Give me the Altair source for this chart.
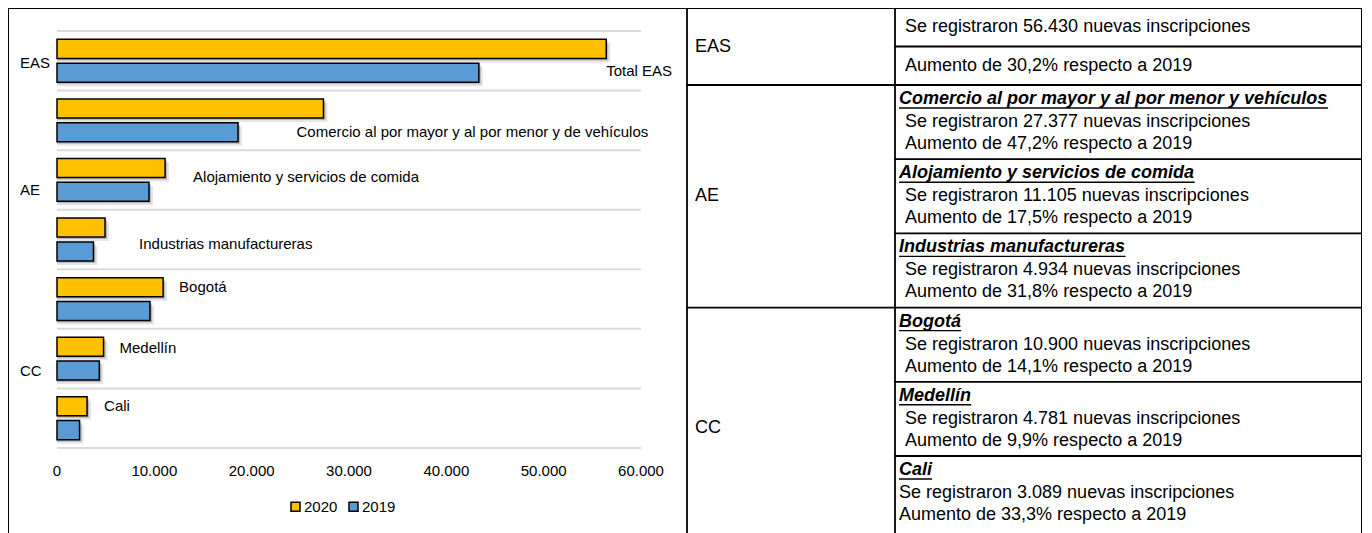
import altair as alt
import pandas as pd

# ---------------- data ----------------
CATEGORIES = [
    "Total EAS",
    "Comercio al por mayor y al por menor y de vehículos",
    "Alojamiento y servicios de comida",
    "Industrias manufactureras",
    "Bogotá",
    "Medellín",
    "Cali",
]
V2020 = [56430, 27377, 11105, 4934, 10900, 4781, 3089]
V2019 = [43341, 18598, 9451, 3744, 9553, 4350, 2317]
YEARS = ["2020", "2019"]
X_TICKS = [0, 10000, 20000, 30000, 40000, 50000, 60000]
GROUP_LABELS = ["EAS", "AE", "CC"]
TABLE_HEADERS = [
    "Comercio al por mayor y al por menor y vehículos",
    "Alojamiento y servicios de comida",
    "Industrias manufactureras",
    "Bogotá",
    "Medellín",
    "Cali",
]
INCREASES = ["30,2%", "47,2%", "17,5%", "31,8%", "14,1%", "9,9%", "33,3%"]

# ---------------- styles / layout ----------------
FONT = "Liberation Sans"
COLORS = ["#FFC000", "#5B9BD5"]
W, H = 1354, 526
X_RANGE = [49, 633]
Y_RANGE = [23, 440]
STEP = (Y_RANGE[1] - Y_RANGE[0]) / len(CATEGORIES)
CHART_FS = 15
TABLE_FS = 18

# label nudges (px) relative to the end of the 2020 bar / band centre
LABEL_NUDGE = {
    "Total EAS": (0, 10),
    "Comercio al por mayor y al por menor y de vehículos": (-27, 12),
    "Alojamiento y servicios de comida": (28, -3),
    "Industrias manufactureras": (34, 4),
    "Bogotá": (16, -12),
    "Medellín": (16, -11),
    "Cali": (17, -12),
}
GROUP_ANCHOR = {"EAS": ("Total EAS", 2), "AE": ("Alojamiento y servicios de comida", 10), "CC": ("Medellín", 12)}

df_bars = pd.DataFrame(
    [{"cat": c, "year": y, "value": v}
     for c, a, b in zip(CATEGORIES, V2020, V2019)
     for y, v in (("2020", a), ("2019", b))]
)
df_cat = pd.DataFrame({"cat": CATEGORIES, "v2020": V2020})
df_ticks = pd.DataFrame({"t": X_TICKS, "cat": [CATEGORIES[-1]] * len(X_TICKS)})

x_scale = alt.Scale(domain=[0, 60000], range=X_RANGE, nice=False, zero=True)
y_scale = alt.Scale(domain=CATEGORIES, range=Y_RANGE, paddingInner=0, paddingOuter=0)


def yoff_scale(shift):
    return alt.Scale(domain=YEARS, range=[shift, STEP + shift], paddingInner=0.2, paddingOuter=0.35)


grid = alt.Chart(df_cat).mark_rule(color="#d9d9d9", strokeWidth=2).encode(
    y=alt.Y("cat:N", scale=y_scale, axis=None, bandPosition=0),
    x=alt.X(datum=0, type="quantitative", scale=x_scale, axis=None),
    x2=alt.X2(datum=60000),
)
grid_bottom = alt.Chart(df_cat).transform_filter(
    alt.datum.cat == CATEGORIES[-1]
).mark_rule(color="#d9d9d9", strokeWidth=2).encode(
    y=alt.Y("cat:N", scale=y_scale, axis=None, bandPosition=1),
    x=alt.X(datum=0, type="quantitative", scale=x_scale, axis=None),
    x2=alt.X2(datum=60000),
)

tick_labels = alt.Chart(df_ticks).transform_calculate(
    lbl="replace(format(datum.t, ','), ',', '.')"
).mark_text(baseline="middle", align="center", dy=23, font=FONT, fontSize=CHART_FS, color="black").encode(
    x=alt.X("t:Q", scale=x_scale, axis=None),
    y=alt.Y("cat:N", scale=y_scale, axis=None, bandPosition=1),
    text="lbl:N",
)


def shadow(shift, op):
    return alt.Chart(df_bars).mark_bar(color="black", opacity=op, xOffset=shift, strokeWidth=0).encode(
        x=alt.X("value:Q", scale=x_scale, stack=None, axis=None),
        y=alt.Y("cat:N", scale=y_scale, axis=None),
        yOffset=alt.YOffset("year:N", scale=yoff_scale(shift)),
    )


bars = alt.Chart(df_bars).mark_bar(stroke="black", strokeWidth=1.5).encode(
    x=alt.X("value:Q", scale=x_scale, stack=None, axis=None),
    y=alt.Y("cat:N", scale=y_scale, axis=None),
    yOffset=alt.YOffset("year:N", scale=yoff_scale(0)),
    color=alt.Color(
        "year:N",
        scale=alt.Scale(domain=YEARS, range=COLORS),
        legend=alt.Legend(
            orient="none", legendX=280, legendY=491, direction="horizontal", title=None,
            symbolType="square", symbolSize=81, symbolStrokeColor="black", symbolStrokeWidth=1.5,
            labelFont=FONT, labelFontSize=CHART_FS, labelColor="black", columnPadding=8,
            labelOffset=1, padding=0,
        ),
    ),
)

label_layers = []
for c in CATEGORIES:
    dx, dy = LABEL_NUDGE[c]
    label_layers.append(
        alt.Chart(df_cat).transform_filter(alt.datum.cat == c).mark_text(
            align="left", baseline="middle", dx=dx, dy=dy, font=FONT, fontSize=CHART_FS, color="black"
        ).encode(
            x=alt.X("v2020:Q", scale=x_scale, axis=None),
            y=alt.Y("cat:N", scale=y_scale, axis=None),
            text="cat:N",
        )
    )

group_layers = []
for g in GROUP_LABELS:
    anchor, dy = GROUP_ANCHOR[g]
    group_layers.append(
        alt.Chart(pd.DataFrame({"cat": [anchor], "g": [g]})).mark_text(
            align="left", baseline="middle", dx=-37, dy=dy, font=FONT, fontSize=CHART_FS, color="black"
        ).encode(
            x=alt.X(datum=0, type="quantitative", scale=x_scale, axis=None),
            y=alt.Y("cat:N", scale=y_scale, axis=None),
            text="g:N",
        )
    )

left = alt.layer(
    grid, grid_bottom, shadow(4, 0.1), shadow(2, 0.2), bars, tick_labels, *label_layers, *group_layers
).resolve_scale(yOffset="independent")

# ---------------- table ----------------
UNIT = 74.2 / 3           # px per text line unit
EAS_H = 77 / UNIT
COLW = {-1: 679, 0: 208, 1: 466}
table_x = alt.Scale(domain=[-1, 0, 1, 2], range=[0, 679, 887, W], nice=False, zero=False)
table_y = alt.Scale(domain=[0, H / UNIT], range=[0, H], nice=False, zero=False)


def tx(col, pad):
    return col + pad / COLW[col]


def fmt(v):
    return f"{v:,}".replace(",", ".")


BOLD_W = {' ': 278, 'a': 556, 'b': 611, 'c': 556, 'd': 611, 'e': 556, 'f': 333, 'g': 611, 'h': 611,
          'i': 278, 'j': 278, 'k': 556, 'l': 278, 'm': 889, 'n': 611, 'o': 611, 'p': 611, 'q': 611,
          'r': 389, 's': 556, 't': 333, 'u': 611, 'v': 556, 'w': 778, 'x': 556, 'y': 556, 'z': 500,
          'á': 556, 'í': 278, 'A': 722, 'B': 722, 'C': 722, 'I': 278, 'M': 833}


def text_w(s, fs):
    return sum(BOLD_W.get(ch, 556) for ch in s) / 1000 * fs


plain, heads, unders = [], [], []
# group labels of the table
plain.append({"tx": tx(0, 8), "ty": EAS_H / 2, "text": GROUP_LABELS[0]})
plain.append({"tx": tx(0, 8), "ty": EAS_H + 4.5, "text": GROUP_LABELS[1]})
plain.append({"tx": tx(0, 8), "ty": EAS_H + 13.5 + 9 / UNIT, "text": GROUP_LABELS[2]})
# EAS cells
plain.append({"tx": tx(1, 10), "ty": 19 / UNIT, "text": f"Se registraron {fmt(V2020[0])} nuevas inscripciones"})
plain.append({"tx": tx(1, 10), "ty": 58 / UNIT, "text": f"Aumento de {INCREASES[0]} respecto a 2019"})
for i, hdr in enumerate(TABLE_HEADERS):
    top = EAS_H + 3 * i
    hy = top + 14 / UNIT
    heads.append({"tx": tx(1, 4), "ty": hy, "text": hdr})
    unders.append({"rx": tx(1, 4), "rx2": tx(1, 4 + text_w(hdr, TABLE_FS)), "ry": hy + 9 / UNIT})
    pad = 4 if i == len(TABLE_HEADERS) - 1 else 10
    plain.append({"tx": tx(1, pad), "ty": top + 37 / UNIT,
                  "text": f"Se registraron {fmt(V2020[i + 1])} nuevas inscripciones"})
    plain.append({"tx": tx(1, pad), "ty": top + 59 / UNIT,
                  "text": f"Aumento de {INCREASES[i + 1]} respecto a 2019"})

hlines = [
    {"rx": 0, "rx2": 2, "ry": EAS_H},
    {"rx": 0, "rx2": 2, "ry": EAS_H + 9},
    {"rx": 1, "rx2": 2, "ry": EAS_H / 2},
    {"rx": 1, "rx2": 2, "ry": EAS_H + 3},
    {"rx": 1, "rx2": 2, "ry": EAS_H + 6},
    {"rx": 1, "rx2": 2, "ry": EAS_H + 12},
    {"rx": 1, "rx2": 2, "ry": EAS_H + 15},
]
vlines = [{"rx": 0, "ry": 0, "ry2": H / UNIT}, {"rx": 1, "ry": 0, "ry2": H / UNIT}]

t_plain = alt.Chart(pd.DataFrame(plain)).mark_text(
    align="left", baseline="middle", font=FONT, fontSize=TABLE_FS, color="black"
).encode(
    x=alt.X("tx:Q", scale=table_x, axis=None),
    y=alt.Y("ty:Q", scale=table_y, axis=None),
    text="text:N",
)
t_heads = alt.Chart(pd.DataFrame(heads)).mark_text(
    align="left", baseline="middle", font=FONT, fontSize=TABLE_FS, fontWeight="bold",
    fontStyle="italic", color="black"
).encode(
    x=alt.X("tx:Q", scale=table_x, axis=None),
    y=alt.Y("ty:Q", scale=table_y, axis=None),
    text="text:N",
)
t_unders = alt.Chart(pd.DataFrame(unders)).mark_rule(color="black", strokeWidth=1.4).encode(
    x=alt.X("rx:Q", scale=table_x, axis=None), x2="rx2:Q",
    y=alt.Y("ry:Q", scale=table_y, axis=None),
)
t_h = alt.Chart(pd.DataFrame(hlines)).mark_rule(color="black", strokeWidth=1.8).encode(
    x=alt.X("rx:Q", scale=table_x, axis=None), x2="rx2:Q",
    y=alt.Y("ry:Q", scale=table_y, axis=None),
)
t_v = alt.Chart(pd.DataFrame(vlines)).mark_rule(color="black", strokeWidth=1.8).encode(
    x=alt.X("rx:Q", scale=table_x, axis=None),
    y=alt.Y("ry:Q", scale=table_y, axis=None), y2="ry2:Q",
)
table = alt.layer(t_h, t_v, t_unders, t_plain, t_heads)

chart = alt.layer(left, table).resolve_scale(x="independent", y="independent").properties(
    width=W, height=H, padding=0, autosize=alt.AutoSizeParams(type="none")
).configure_view(stroke="black", strokeWidth=2)

chart.save("out.html", embed_options={"renderer": "svg", "actions": False})
